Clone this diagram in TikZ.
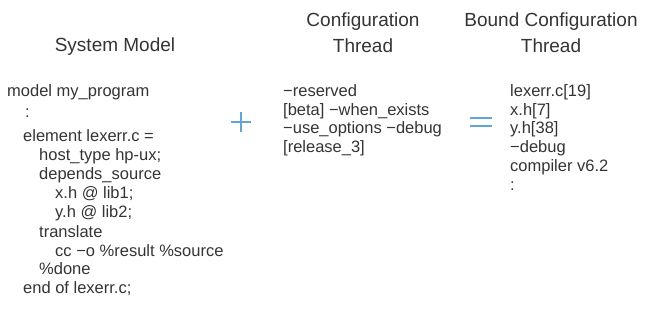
\documentclass[tikz,border=0pt]{standalone}
\usepackage{fontspec}
\setmainfont{Liberation Sans}
\usepackage{xcolor}
\usetikzlibrary{positioning}
\definecolor{inkgray}{RGB}{52,52,52}
\definecolor{opblue}{RGB}{100,165,210}

\begin{document}
\begin{tikzpicture}[
  x=1pt, y=-1pt,
  head/.style={font=\fontsize{19}{26}\selectfont, text=inkgray, align=center, inner sep=0pt},
  code/.style={font=\fontsize{16.5}{18}\selectfont, text=inkgray, anchor=base west, inner sep=0pt},
  opline/.style={draw=opblue, line width=2.6pt}
]
  \useasboundingbox (0,0) rectangle (646,326);

  % column headings
  \node[head] (sysmodel) at (115,47) {System Model};
  \node[head] (cfgthread) at (363,33) {Configuration\\Thread};
  \node[head] (boundthread) at (551,33) {Bound Configuration\\Thread};

  % system model text
  \foreach \px/\py/\txt [count=\i] in {
      7/96.5/model my\_program,
      25/118/:,
      23/142/element lexerr.c =,
      39/161/host\_type hp-ux;,
      39/180/depends\_source,
      55/199/x.h @ lib1;,
      55/218/y.h @ lib2;,
      39/237/translate,
      55/256/cc −o \%result \%source,
      39/275/\%done,
      23/294/end of lexerr.c;} {
    \node[code] (sm-\i) at (\px,\py) {\txt};
  }

  % configuration thread text
  \foreach \txt [count=\i] in {−reserved, [beta] −when\_exists,
      −use\_options −debug, [release\_3]} {
    \node[code] (ct-\i) at (283, 77.75+18.75*\i) {\txt};
  }

  % bound configuration thread text
  \foreach \txt [count=\i] in {lexerr.c[19], x.h[7], y.h[38], −debug,
      compiler v6.2, :} {
    \node[code] (bt-\i) at (510, 77.75+18.75*\i) {\txt};
  }

  % plus and equals
  \coordinate (plus) at (241,122);
  \coordinate (equals) at (481,122);
  \draw[opline] ([xshift=-10pt]plus) -- ([xshift=10pt]plus);
  \draw[opline] ([yshift=-10pt]plus) -- ([yshift=10pt]plus);
  \draw[opline] ([xshift=-11pt,yshift=4pt]equals) -- ([xshift=11pt,yshift=4pt]equals);
  \draw[opline] ([xshift=-11pt,yshift=-4pt]equals) -- ([xshift=11pt,yshift=-4pt]equals);
\end{tikzpicture}
\end{document}
